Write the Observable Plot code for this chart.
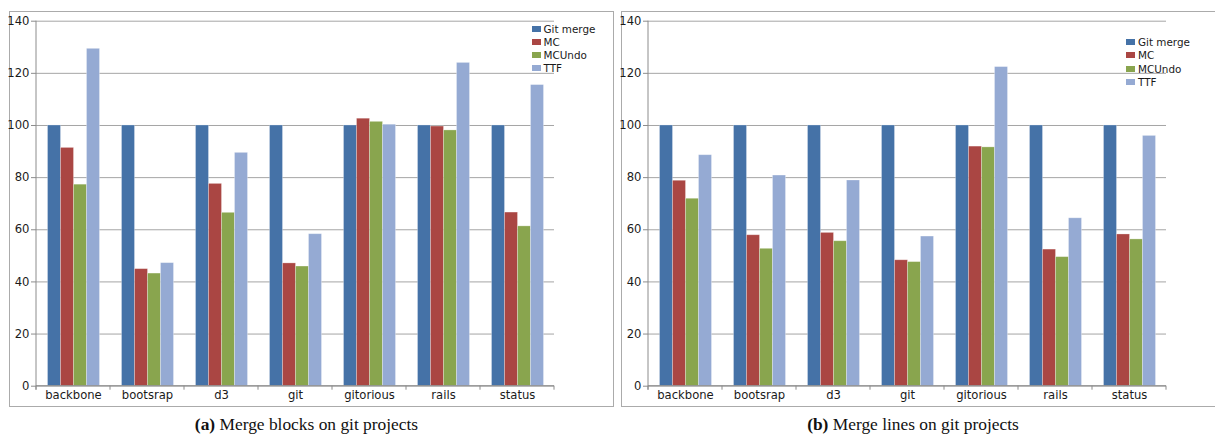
<!DOCTYPE html>
<html><head><meta charset="utf-8">
<script src="https://cdn.jsdelivr.net/npm/d3@7"></script>
<script src="https://cdn.jsdelivr.net/npm/@observablehq/plot@0.6"></script>
<style>
html,body{margin:0;padding:0;background:#fff;}
body{width:1215px;height:439px;position:relative;overflow:hidden;font-family:"DejaVu Sans",sans-serif;}
.frame{position:absolute;border:1px solid #ababab;box-sizing:border-box;}
.chart{position:absolute;top:0;width:611px;height:410px;}
.chart svg{max-width:none !important;width:611px;height:410px;}
.legend{position:absolute;font-size:10.4px;font-family:"DejaVu Sans",sans-serif;color:#1a1a1a;}
.legend .row{display:flex;align-items:center;white-space:nowrap;}
.legend .sw{width:9px;height:6px;margin-right:3px;flex:none;}
.caption{position:absolute;top:414px;width:400px;font-size:17.4px;font-family:"Liberation Serif",serif;text-align:center;white-space:nowrap;color:#111;}
</style></head><body>
<div class="frame" style="left:9px;top:10.5px;width:604.5px;height:396.5px"></div>
<div class="frame" style="left:620.5px;top:10.5px;width:606px;height:396.5px"></div>
<script>
const projects = ["backbone","bootsrap","d3","git","gitorious","rails","status"];
const seriesNames = ["Git merge","MC","MCUndo","TTF"];
const colors = ["#4572a7","#aa4643","#89a54e","#95aad3"];
const yTicks = [0,20,40,60,80,100,120,140];
// (a) Merge blocks
const blocksGitMerge = [100,100,100,100,100,100,100];
const blocksMC       = [91.4,44.9,77.6,47.1,102.6,99.6,66.6];
const blocksMCUndo   = [77.3,43.2,66.5,45.9,101.4,98.1,61.3];
const blocksTTF      = [129.4,47.2,89.5,58.3,100.3,124.0,115.5];
// (b) Merge lines
const linesGitMerge = [100,100,100,100,100,100,100];
const linesMC       = [78.8,57.9,58.8,48.3,91.9,52.4,58.2];
const linesMCUndo   = [71.9,52.7,55.6,47.6,91.6,49.5,56.3];
const linesTTF      = [88.6,80.8,78.9,57.4,122.4,64.4,96.0];
const captions = [["(a)"," Merge blocks on git projects"],["(b)"," Merge lines on git projects"]];

function makeChart(cols, left) {
  const table = [];
  projects.forEach((p,i) => seriesNames.forEach((s,j) => table.push({project:p, series:s, value: cols[j][i]})));
  const plot = Plot.plot({
    width: 611, height: 410,
    marginLeft: 34.5, marginRight: 55, marginTop: 20.7, marginBottom: 24.3,
    style: {background:"transparent", fontFamily:"DejaVu Sans", fontSize:"11.6px", color:"#1a1a1a", overflow:"visible"},
    fx: {domain: projects, paddingInner:0, paddingOuter:0, label:null, axis:null},
    x: {domain: seriesNames, paddingInner:0, paddingOuter:0.78, axis:null},
    y: {domain:[0,140], label:null, axis:null},
    color: {domain: seriesNames, range: colors},
    marks: [
      Plot.ruleY(yTicks, {stroke:"#a5a5a5", strokeWidth:1}),
      Plot.barY(table, {fx:"project", x:"series", y:"value", fill:"series", stroke:"#ffffff", strokeOpacity:0.35, strokeWidth:0.8}),
      Plot.axisY(yTicks, {tickSize:5, tickPadding:2, stroke:"#8c8c8c", fill:"#1a1a1a", label:null}),
      Plot.axisFx({anchor:"bottom", tickSize:0, tickPadding:5, label:null, fill:"#1a1a1a"})
    ]
  });
  const fx = plot.scale("fx"), y = plot.scale("y");
  const y0 = y.apply(0), yTop = y.apply(140);
  const bounds = projects.map(p => fx.apply(p)).concat([fx.apply(projects[projects.length-1]) + fx.bandwidth]);
  const g = d3.select(plot).append("g").attr("stroke","#8c8c8c").attr("stroke-width",1);
  g.append("line").attr("x1",bounds[0]).attr("x2",bounds[0]).attr("y1",yTop).attr("y2",y0+4);
  g.append("line").attr("x1",bounds[0]).attr("x2",bounds[bounds.length-1]).attr("y1",y0).attr("y2",y0);
  g.selectAll(null).data(bounds).join("line").attr("x1",d=>d).attr("x2",d=>d).attr("y1",y0).attr("y2",y0+4);
  const wrap = document.createElement("div");
  wrap.className = "chart";
  wrap.style.left = left + "px";
  wrap.appendChild(plot);
  document.body.appendChild(wrap);
}

function makeLegend(left, top, step) {
  const div = document.createElement("div");
  div.className = "legend";
  div.style.left = left + "px";
  div.style.top = top + "px";
  seriesNames.forEach((s,i) => {
    const row = document.createElement("div");
    row.className = "row";
    row.style.height = step + "px";
    const sw = document.createElement("div");
    sw.className = "sw"; sw.style.background = colors[i];
    const t = document.createElement("span"); t.textContent = s;
    row.appendChild(sw); row.appendChild(t);
    div.appendChild(row);
  });
  document.body.appendChild(div);
}

function makeCaption(center, cap) {
  const div = document.createElement("div");
  div.className = "caption";
  div.style.left = (center - 200) + "px";
  const b = document.createElement("b"); b.textContent = cap[0];
  div.appendChild(b);
  div.appendChild(document.createTextNode(cap[1]));
  document.body.appendChild(div);
}

makeChart([blocksGitMerge, blocksMC, blocksMCUndo, blocksTTF], 0);
makeChart([linesGitMerge, linesMC, linesMCUndo, linesTTF], 611.5);
makeLegend(531.5, 22.8, 12.9);
makeLegend(1126, 35, 13.5);
makeCaption(306.5, captions[0]);
makeCaption(913, captions[1]);
</script>
</body></html>
